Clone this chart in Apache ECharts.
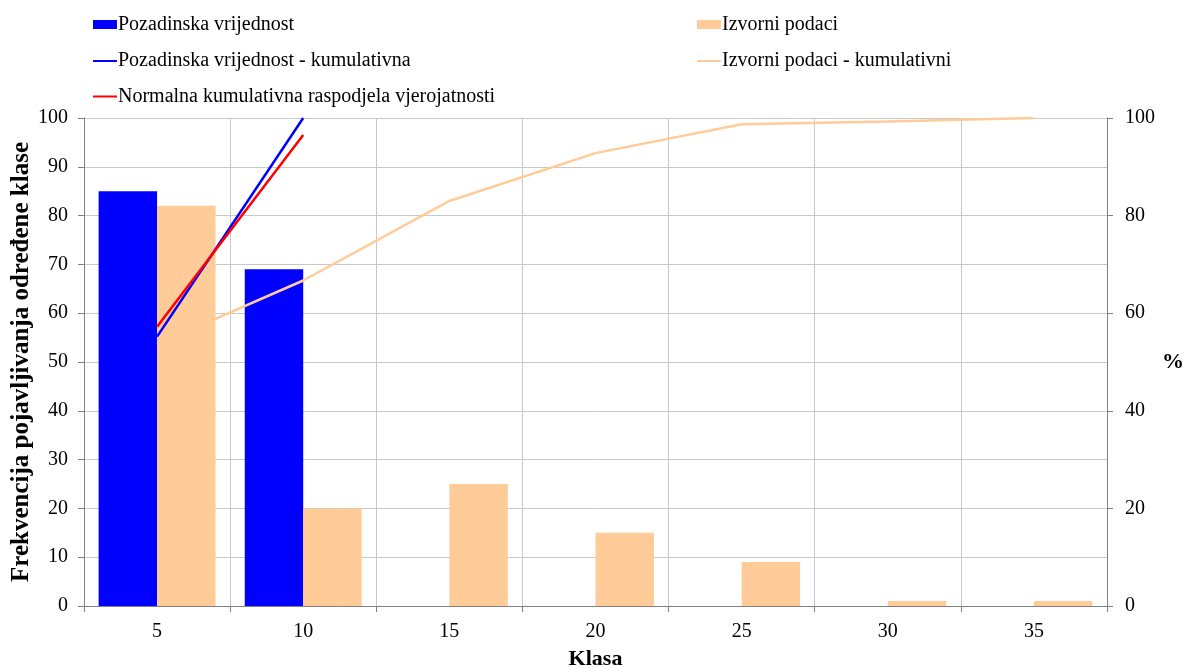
<!DOCTYPE html>
<html>
<head>
<meta charset="utf-8">
<script src="https://cdn.jsdelivr.net/npm/echarts@6/dist/echarts.min.js"></script>
<style>
html,body{margin:0;padding:0;background:#fff;}
#chart{width:1184px;height:668px;}
</style>
</head>
<body>
<div id="chart"></div>
<script>
const categories = ['5','10','15','20','25','30','35'];
const pozadinska = [85, 69, 0, 0, 0, 0, 0];
const izvorni = [82, 20, 25, 15, 9, 1, 1];
const pozadinskaKum = [55.2, 100, '-', '-', '-', '-', '-'];
const normalnaKum = [57.2, 96.5, '-', '-', '-', '-', '-'];
const izvorniKum = [53.6, 66.7, 83.0, 92.8, 98.7, 99.3, 100];
const leftTicks = [0, 10, 20, 30, 40, 50, 60, 70, 80, 90, 100];
const rightTicks = [0, 20, 40, 60, 80, 100];

const FONT = '"Liberation Serif", "Times New Roman", serif';
const BLUE = '#0000ff', ORANGE = '#ffcc99', RED = '#ff0000';

function legendItem(name, left, top, isLine) {
  return {
    orient: 'horizontal', left: left, top: top, padding: 0,
    itemWidth: 24, itemHeight: isLine ? 2 : 9,
    textStyle: {fontFamily: FONT, fontSize: 20, color: '#000', padding: [0, 0, 0, -4]},
    data: [{name: name, icon: 'rect'}]
  };
}

const chart = echarts.init(document.getElementById('chart'), null, {renderer: 'canvas'});
chart.setOption({
  backgroundColor: '#fff',
  animation: false,
  textStyle: {fontFamily: FONT, color: '#000'},
  legend: [
    legendItem('Pozadinska vrijednost', 93, 14.5, false),
    legendItem('Pozadinska vrijednost - kumulativna', 93, 51, true),
    legendItem('Normalna kumulativna raspodjela vjerojatnosti', 93, 86.5, true),
    legendItem('Izvorni podaci', 697, 14.5, false),
    legendItem('Izvorni podaci - kumulativni', 697, 51, true)
  ],
  grid: {left: 84, right: 77, top: 118, bottom: 62, containLabel: false, outerBoundsMode: 'none'},
  xAxis: {
    type: 'category', data: categories, boundaryGap: true,
    name: 'Klasa', nameLocation: 'middle', nameGap: 42, nameMoveOverlap: false,
    nameTextStyle: {fontFamily: FONT, fontSize: 22, fontWeight: 'bold', color: '#000'},
    axisLine: {show: true, lineStyle: {color: '#808080', width: 1}},
    axisTick: {show: true, alignWithLabel: false, length: 6, lineStyle: {color: '#808080'}},
    axisLabel: {fontFamily: FONT, fontSize: 20, color: '#000', margin: 16},
    splitLine: {show: true, lineStyle: {color: '#c8c8c8', width: 1}}
  },
  yAxis: [
    {
      type: 'value', min: 0, max: 100, interval: 10, position: 'left',
      name: 'Frekvencija pojavljivanja određene klase', nameLocation: 'middle', nameGap: 50, nameRotate: 90,
      nameMoveOverlap: false,
      nameTextStyle: {fontFamily: FONT, fontSize: 25, fontWeight: 'bold', color: '#000'},
      axisLine: {show: true, lineStyle: {color: '#808080', width: 1}},
      axisTick: {show: true, length: 6, lineStyle: {color: '#808080'}},
      axisLabel: {fontFamily: FONT, fontSize: 20, color: '#000', margin: 16,
        formatter: v => leftTicks.includes(v) ? String(v) : ''},
      splitLine: {show: true, lineStyle: {color: '#c8c8c8', width: 1}}
    },
    {
      type: 'value', min: 0, max: 100, interval: 20, position: 'right',
      name: '%', nameLocation: 'middle', nameGap: 55, nameRotate: 0, nameMoveOverlap: false,
      nameTextStyle: {fontFamily: FONT, fontSize: 22, fontWeight: 'bold', color: '#000', align: 'left'},
      axisLine: {show: true, lineStyle: {color: '#808080', width: 1}},
      axisTick: {show: true, length: 6, lineStyle: {color: '#808080'}},
      axisLabel: {fontFamily: FONT, fontSize: 20, color: '#000', margin: 18,
        formatter: v => rightTicks.includes(v) ? String(v) : ''},
      splitLine: {show: false}
    }
  ],
  series: [
    {
      name: 'Pozadinska vrijednost', type: 'bar', yAxisIndex: 0, data: pozadinska,
      itemStyle: {color: BLUE}, barGap: '0%', barCategoryGap: '20%', z: 2
    },
    {
      name: 'Izvorni podaci', type: 'bar', yAxisIndex: 0, data: izvorni,
      itemStyle: {color: ORANGE}, barGap: '0%', barCategoryGap: '20%', z: 2
    },
    {
      name: 'Izvorni podaci - kumulativni', type: 'line', yAxisIndex: 1, data: izvorniKum,
      symbol: 'none', lineStyle: {color: ORANGE, width: 2.5}, itemStyle: {color: ORANGE}, z: 3
    },
    {
      name: 'Pozadinska vrijednost - kumulativna', type: 'line', yAxisIndex: 1, data: pozadinskaKum,
      symbol: 'none', lineStyle: {color: BLUE, width: 2.5}, itemStyle: {color: BLUE}, z: 4
    },
    {
      name: 'Normalna kumulativna raspodjela vjerojatnosti', type: 'line', yAxisIndex: 1, data: normalnaKum,
      symbol: 'none', lineStyle: {color: RED, width: 2.5}, itemStyle: {color: RED}, z: 5
    }
  ]
});
</script>
</body>
</html>
